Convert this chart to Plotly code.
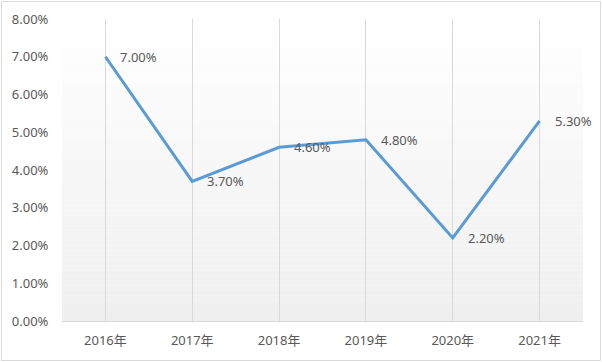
import plotly.graph_objects as go

years = ["2016年", "2017年", "2018年", "2019年", "2020年", "2021年"]
rates = [7.00, 3.70, 4.60, 4.80, 2.20, 5.30]
labels = ["7.00%", "3.70%", "4.60%", "4.80%", "2.20%", "5.30%"]
y_ticks = [0, 1, 2, 3, 4, 5, 6, 7, 8]
y_tick_text = ["0.00%", "1.00%", "2.00%", "3.00%", "4.00%", "5.00%", "6.00%", "7.00%", "8.00%"]

font_family = "Noto Sans, Noto Sans CJK SC, sans-serif"
txt_color = "#595959"
fs = 13

fig = go.Figure()
fig.add_trace(go.Scatter(
    x=years, y=rates, mode="lines",
    line=dict(color="#5B9BD5", width=3),
    hoverinfo="skip"
))

annotations = []
for yr, v, lab in zip(years, rates, labels):
    annotations.append(dict(x=yr, y=v, xref="x", yref="y", text=lab,
                            showarrow=False, xanchor="left", yanchor="middle",
                            xshift=13, font=dict(family=font_family, size=fs, color=txt_color)))

# gradient background for plot area
shapes = []
n = 60
for i in range(n):
    f = i / (n - 1)
    g = int(round(255 - (255 - 239) * f))
    shapes.append(dict(type="rect", xref="paper", yref="paper",
                       x0=0, x1=1, y0=1 - (i + 1) / n, y1=1 - i / n,
                       fillcolor=f"rgb({g},{g},{g})", line=dict(width=0), layer="below"))
# outer border
W, H = 602 - 62 - 19, 362 - 19 - 41
shapes.append(dict(type="rect", xref="paper", yref="paper",
                   x0=-60.5 / W, x1=1 + 17.5 / W, y0=-39.5 / H, y1=1 + 17.5 / H,
                   line=dict(color="#d9d9d9", width=1), fillcolor="rgba(0,0,0,0)", layer="above"))

fig.update_layout(
    width=602, height=362,
    margin=dict(l=62, r=19, t=19, b=41, autoexpand=False),
    paper_bgcolor="white", plot_bgcolor="rgba(0,0,0,0)",
    showlegend=False,
    shapes=shapes,
    annotations=annotations,
    font=dict(family=font_family, size=fs, color=txt_color),
    xaxis=dict(range=[-0.5, 5.5], showgrid=True, gridcolor="#d9d9d9", gridwidth=1,
               showline=True, linecolor="#d9d9d9", linewidth=1,
               ticks="outside", ticklen=7, tickcolor="rgba(0,0,0,0)",
               tickfont=dict(family=font_family, size=fs, color=txt_color),
               zeroline=False, fixedrange=True, automargin=False),
    yaxis=dict(range=[0, 8], tickvals=y_ticks, ticktext=y_tick_text,
               showgrid=False, zeroline=False, showline=False,
               ticks="outside", ticklen=10, tickcolor="rgba(0,0,0,0)",
               tickfont=dict(family=font_family, size=fs, color=txt_color),
               fixedrange=True, automargin=False),
)
fig.write_html("out.html", post_script="document.body.style.margin='0';",
               config={"displayModeBar": False})
